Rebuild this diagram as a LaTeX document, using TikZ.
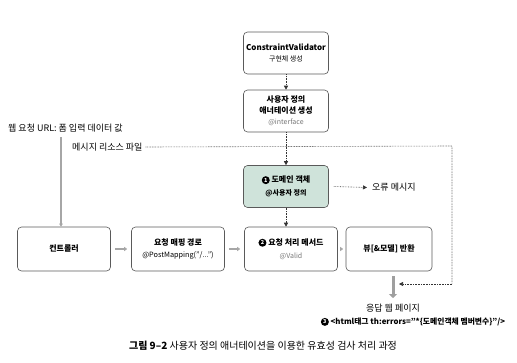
\documentclass[tikz,border=0pt]{standalone}
\usepackage{fontspec}
\setmainfont{Noto Sans CJK KR}
\usetikzlibrary{arrows.meta}
\definecolor{boxline}{HTML}{5A5A5A}
\definecolor{greenfill}{HTML}{CFE3DA}
\definecolor{subgray}{HTML}{777777}
\tikzset{
  every node/.style={font=\fontsize{8}{9.5}\selectfont, inner sep=0pt},
  box/.style={draw=boxline, line width=0.6pt, rounded corners=4pt, fill=white, minimum width=85pt, minimum height=42pt, align=center},
  wbox/.style={box, minimum width=93pt, minimum height=44pt},
  dotline/.style={densely dotted, line width=0.6pt, color=black!80},
  dotarrow/.style={dotline, -{Triangle[length=4pt,width=4pt]}},
  grayarrow/.style={draw=gray!70, line width=1.6pt, -{Triangle[length=3pt,width=4pt]}},
  bignum/.style={circle, fill=black, text=white, font=\fontsize{5.5}{5.5}\selectfont\bfseries, minimum size=8pt, inner sep=0pt},
}
\newcommand{\numb}[1]{\tikz[baseline=-2.8pt]\node[bignum]{#1};}
\begin{document}
\begin{tikzpicture}[x=1pt,y=-1pt]
\useasboundingbox (0,0) rectangle (517,362);
% top column
\node[box] (cv) at (286,53) {{\bfseries ConstraintValidator}\\[2pt]{\fontsize{7}{8}\selectfont 구현체 생성}};
\node[box] (ann) at (286,111) {{\bfseries 사용자 정의}\\[1pt]{\bfseries 애너테이션 생성}\\[2pt]{\fontsize{7}{8}\selectfont\color{subgray} @interface}};
\node[box, fill=greenfill] (dom) at (286,186.5) {{\bfseries \numb{1} 도메인 객체}\\[3pt]{\fontsize{7}{8}\selectfont\bfseries @사용자 정의}};
% bottom row
\node[wbox] (ctl) at (64,249) {\bfseries 컨트롤러};
\node[wbox] (map) at (178,249) {{\bfseries 요청 매핑 경로}\\[3pt]{\fontsize{7.3}{8}\selectfont @PostMapping("/...")}};
\node[wbox] (proc) at (291,249) {{\bfseries \numb{2} 요청 처리 메서드}\\[3pt]{\fontsize{7}{8}\selectfont\color{subgray} @Valid}};
\node[wbox, minimum width=86pt] (view) at (389,249) {\bfseries 뷰[\&모델] 반환};
% left labels
\node[anchor=west] (url) at (8,128) {\fontsize{9}{10}\selectfont 웹 요청 URL: 폼 입력 데이터 값};
\node[anchor=west] (msg) at (72,147) {\fontsize{9}{10}\selectfont 메시지 리소스 파일};
\coordinate (urltop) at (61,137);
\draw[draw=gray!70, line width=1.2pt, -{Triangle[length=3pt,width=3.5pt]}] (urltop) -- (urltop |- ctl.north);
% gray arrows between bottom boxes
\draw[grayarrow] (ctl.east) ++(4,0) -- ([xshift=-4pt]map.west);
\draw[grayarrow] (map.east) ++(4,0) -- ([xshift=-4pt]proc.west);
\draw[grayarrow] (proc.east) ++(3,0) -- ([xshift=-2.5pt]view.west);
% dotted vertical arrows
\draw[dotarrow] (cv.south) -- (ann.north);
\draw[dotarrow] (ann.south) -- (dom.north);
\draw[dotarrow] (dom.south) -- (proc.north -| dom.south);
% error message
\node[anchor=west] (err) at (372,187.5) {\fontsize{9}{10}\selectfont 오류 메시지};
\draw[dotarrow] ([xshift=5pt]dom.east) -- ([xshift=-5pt]err.west);
% response
\coordinate (respTop) at (393,276);
\node (resp) at (393,308) {\fontsize{9}{10}\selectfont 응답 웹 페이지};
\node (tag) at (413,322) {{\bfseries \numb{3}} {\fontsize{7.8}{8.5}\selectfont\bfseries <html태그 th:errors="*\{도메인객체 멤버변수\}"/>}};
\coordinate (respArrowEnd) at (393,298);
\draw[draw=gray!75, line width=3pt, -{Triangle[length=4pt,width=8pt]}] (respTop) -- (respArrowEnd);
% message resource dotted path
\coordinate (corner1) at (452,146);
\coordinate (corner2) at (452,284);
\coordinate (respIn) at (399,284);
\draw[dotline] ([xshift=3pt]msg.east) -- (corner1) -- (corner2);
\draw[dotarrow] (corner2) -- (respIn);
% caption
\node (cap) at (263,346) {\fontsize{10}{11}\selectfont {\bfseries 그림 9–2} 사용자 정의 애너테이션을 이용한 유효성 검사 처리 과정};
\end{tikzpicture}
\end{document}
